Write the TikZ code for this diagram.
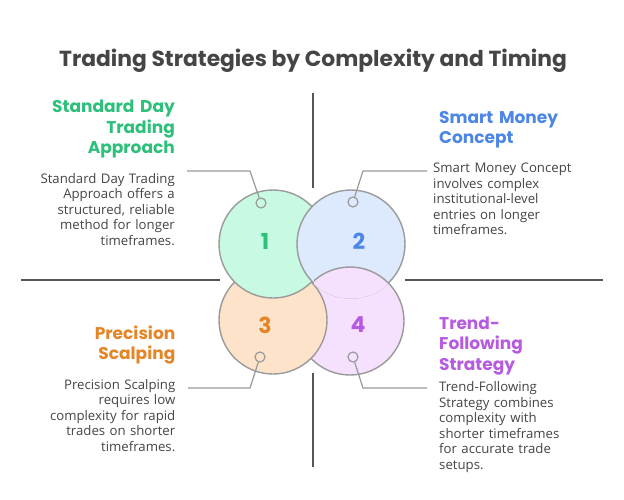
\documentclass[tikz,border=0pt]{standalone}
\usepackage{fontspec}
\setmainfont{Poppins}
\newfontfamily\descfont{Open Sans}
\definecolor{fillA}{HTML}{C8FAE3}
\definecolor{fillB}{HTML}{DDE9FD}
\definecolor{fillC}{HTML}{FDE3C9}
\definecolor{fillD}{HTML}{F5E0FD}
\definecolor{txtA}{HTML}{2DC07A}
\definecolor{txtB}{HTML}{4C86E6}
\definecolor{txtC}{HTML}{E58527}
\definecolor{txtD}{HTML}{B65BE0}
\definecolor{ringgray}{HTML}{9A9A9A}
\definecolor{axisgray}{HTML}{555555}
\definecolor{bodygray}{HTML}{454545}
\tikzset{
  blob/.style={circle, draw=ringgray, line width=1.4pt, minimum size=108pt, inner sep=0pt},
  numlabel/.style={font=\bfseries\fontsize{22}{24}\selectfont},
  pinmark/.style={circle, draw=ringgray, line width=1.2pt, minimum size=10pt, inner sep=0pt},
  leader/.style={draw=ringgray, line width=1.2pt},
  axisline/.style={draw=axisgray, line width=1.5pt},
  headR/.style={anchor=base east, inner sep=0pt, text width=160pt, align=right, font=\bfseries\fontsize{17}{20.5}\selectfont},
  headL/.style={anchor=base west, inner sep=0pt, text width=160pt, align=left, font=\bfseries\fontsize{17}{20.5}\selectfont},
  descR/.style={anchor=base east, inner sep=0pt, text width=160pt, align=right, text=bodygray, font=\descfont\fontsize{13.2}{15.5}\selectfont},
  descL/.style={anchor=base west, inner sep=0pt, text width=170pt, align=left, text=bodygray, font=\descfont\fontsize{13.2}{15.5}\selectfont},
}
\begin{document}
\begin{tikzpicture}[x=1pt,y=-1pt]
\useasboundingbox[fill=white] (0,0) rectangle (624,499);
% title
\node[font=\bfseries\fontsize{21.8}{26}\selectfont, text=bodygray] (title) at (313,61) {Trading Strategies by Complexity and Timing};
% axes
\coordinate (vt1) at (313,93); \coordinate (vt2) at (313,188);
\coordinate (vb1) at (313,373); \coordinate (vb2) at (313,467);
\coordinate (hl1) at (21,280); \coordinate (hl2) at (220,280);
\coordinate (hr1) at (405,280); \coordinate (hr2) at (603,280);
\draw[axisline] (vt1) -- (vt2);
\draw[axisline] (vb1) -- (vb2);
\draw[axisline] (hl1) -- (hl2);
\draw[axisline] (hr1) -- (hr2);
% circles (cyclic overlap)
\node[blob, fill=fillD] (c4) at (350,321) {};
\node[blob, fill=fillC] (c3) at (273,320) {};
\node[blob, fill=fillA] (c1) at (273,244) {};
\node[blob, fill=fillB] (c2) at (351,244) {};
\begin{scope}
  \clip (351,244) circle (54.7);
  \clip (314,250) rectangle (420,310);
  \path[fill=fillD, draw=ringgray, line width=1.4pt] (350,321) circle (54);
\end{scope}
% numbers
\node[numlabel, text=txtA] (n1) at (265,241) {1};
\node[numlabel, text=txtB] (n2) at (359,241) {2};
\node[numlabel, text=txtC] (n3) at (265,325) {3};
\node[numlabel, text=txtD] (n4) at (358,325) {4};
% pins and leaders
\node[pinmark, fill=fillA] (p1) at (261,203) {};
\node[pinmark, fill=fillB] (p2) at (353,202) {};
\node[pinmark, fill=fillC] (p3) at (260,357) {};
\node[pinmark, fill=fillD] (p4) at (353,357) {};
\coordinate (k1) at (250,171); \coordinate (e1) at (187,171);
\coordinate (k2) at (363,171); \coordinate (e2) at (427,171);
\coordinate (k3) at (250,388); \coordinate (e3) at (188,388);
\coordinate (k4) at (363,388); \coordinate (e4) at (427,388);
\draw[leader] (p1) -- (k1) -- (e1);
\draw[leader] (p2) -- (k2) -- (e2);
\draw[leader] (p3) -- (k3) -- (e3);
\draw[leader] (p4) -- (k4) -- (e4);
% texts
\node[headR, text=txtA] (h1) at (175,112.7) {Standard Day\\Trading\\Approach};
\node[descR] (d1) at (175,183.3) {Standard Day Trading\\Approach offers a\\structured, reliable\\method for longer\\timeframes.};
\node[headL, text=txtB] (h2) at (439,123) {Smart Money\\Concept};
\node[descL] (d2) at (433,172.7) {Smart Money Concept\\involves complex\\institutional-level\\entries on longer\\timeframes.};
\node[headR, text=txtC] (h3) at (175.5,339) {Precision\\Scalping};
\node[descR] (d3) at (175.5,389.3) {Precision Scalping\\requires low\\complexity for rapid\\trades on shorter\\timeframes.};
\node[headL, text=txtD] (h4) at (439,329) {Trend-\\Following\\Strategy};
\node[descL] (d4) at (439,391.7) {Trend-Following\\Strategy combines\\complexity with\\shorter timeframes\\for accurate trade\\setups.};
\end{tikzpicture}
\end{document}
